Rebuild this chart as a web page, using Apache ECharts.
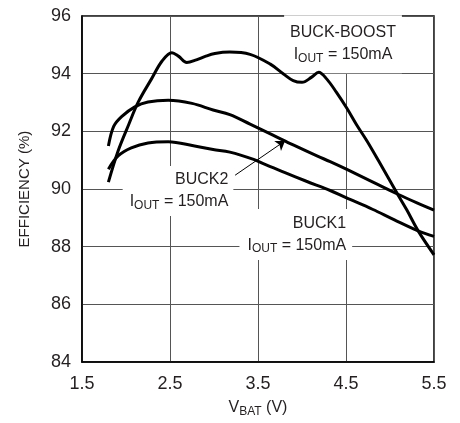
<!DOCTYPE html>
<html><head><meta charset="utf-8">
<script src="https://cdn.jsdelivr.net/npm/echarts@6/dist/echarts.min.js"></script>
<style>html,body{margin:0;padding:0;background:#fff}#c{width:460px;height:423px}</style>
</head><body><div id="c"></div>
<script>
const FONT = "'Liberation Sans Narrow','Arial Narrow','Liberation Sans',Arial,sans-serif";
const INK = '#231f20';
const xTicks = [1.5, 2.5, 3.5, 4.5, 5.5];
const yTicks = [84, 86, 88, 90, 92, 94, 96];

const buckBoostX = [1.8, 1.91, 2.03, 2.14, 2.29, 2.41, 2.52, 2.6, 2.69, 2.8, 2.9, 3.01, 3.18, 3.41, 3.64, 3.79, 3.9, 4.0, 4.11, 4.19, 4.28, 4.39, 4.51, 4.62, 4.74, 4.87, 5.09, 5.19, 5.32, 5.5];
const buckBoostY = [90.24, 91.32, 92.23, 93.02, 93.82, 94.44, 94.73, 94.6, 94.39, 94.48, 94.6, 94.7, 94.75, 94.67, 94.33, 93.99, 93.76, 93.7, 93.88, 94.05, 93.82, 93.36, 92.8, 92.23, 91.66, 90.98, 89.8, 89.28, 88.55, 87.72];

const buck2X = [1.8, 1.86, 1.95, 2.1, 2.25, 2.48, 2.75, 2.99, 3.18, 3.41, 3.67, 3.9, 4.17, 4.32, 4.51, 4.8, 5.09, 5.3, 5.5];
const buck2Y = [91.49, 92.17, 92.51, 92.85, 93.02, 93.08, 92.97, 92.74, 92.58, 92.25, 91.87, 91.53, 91.15, 90.95, 90.68, 90.25, 89.82, 89.53, 89.27];

const buck1X = [1.8, 1.91, 2.06, 2.25, 2.48, 2.78, 2.99, 3.18, 3.45, 3.56, 3.8, 4.05, 4.32, 4.5, 4.8, 5.05, 5.32, 5.5];
const buck1Y = [90.69, 91.15, 91.43, 91.6, 91.64, 91.49, 91.37, 91.28, 91.03, 90.88, 90.58, 90.27, 89.95, 89.7, 89.3, 88.93, 88.55, 88.36];

const zip = (xs, ys) => xs.map((x, i) => [x, ys[i]]);

const rich = {
  n: { fontFamily: FONT, fontSize: 16, color: INK, lineHeight: 22 },
  s: { fontFamily: FONT, fontSize: 12, color: INK, lineHeight: 22, padding: [8, 0, 0, 0] }
};
const ioutLine = '{n|I}{s|OUT}{n| = 150mA}';

function lineSeries(name, xs, ys, extra) {
  return Object.assign({
    name: name,
    type: 'line',
    data: zip(xs, ys),
    smooth: 0.35,
    showSymbol: false,
    symbol: 'none',
    clip: true,
    z: 5,
    lineStyle: { color: '#000', width: 3 },
    silent: true
  }, extra || {});
}

function labelPoint(coord, text, position, padding) {
  return {
    coord: coord,
    symbolSize: 0,
    label: {
      show: true,
      position: position,
      distance: 0,
      formatter: text,
      rich: rich,
      color: INK,
      align: position === 'left' ? 'right' : 'center',
      backgroundColor: '#fff',
      padding: padding
    }
  };
}

const chart = echarts.init(document.getElementById('c'), null, { renderer: 'canvas' });
chart.setOption({
  animation: false,
  backgroundColor: '#fff',
  grid: { left: 82, right: 26, top: 16, bottom: 55, show: true, borderColor: '#000', borderWidth: 1.5, backgroundColor: 'transparent' },
  xAxis: {
    type: 'value', min: 1.5, max: 5.5,
    axisLine: { show: true, lineStyle: { color: '#000', width: 1.5 } },
    axisTick: { show: false, customValues: xTicks },
    axisLabel: { customValues: xTicks, fontFamily: FONT, fontSize: 18, color: INK, margin: 13, formatter: v => v.toFixed(1) },
    splitLine: { show: true, lineStyle: { color: '#555', width: 1 } },
    name: '{n|V}{s|BAT}{n| (V)}',
    nameLocation: 'middle',
    nameGap: 22,
    nameTextStyle: { rich: rich }
  },
  yAxis: {
    type: 'value', min: 84, max: 96, interval: 2,
    axisLine: { show: true, lineStyle: { color: '#000', width: 1.5 } },
    axisTick: { show: false },
    axisLabel: { fontFamily: FONT, fontSize: 18, color: INK, margin: 11 },
    splitLine: { show: true, lineStyle: { color: '#555', width: 1 } },
    name: 'EFFICIENCY (%)',
    nameLocation: 'middle',
    nameGap: 50,
    nameTextStyle: { fontFamily: FONT, fontSize: 15, color: INK }
  },
  series: [
    lineSeries('BUCK-BOOST', buckBoostX, buckBoostY, {
      markPoint: {
        silent: true,
        symbol: 'circle',
        data: [labelPoint([4.466, 95.02], '{n|BUCK-BOOST}\n' + ioutLine, 'inside', [6, 6, 8, 6])]
      }
    }),
    lineSeries('BUCK2', buck2X, buck2Y, {
      markPoint: {
        silent: true,
        symbol: 'circle',
        data: [labelPoint([3.22, 89.93], '{n|BUCK2}\n' + ioutLine, 'left', [3, 5, 3, 7])]
      },
      markLine: {
        silent: true,
        symbol: ['none', 'arrow'],
        symbolSize: 9,
        label: { show: false },
        lineStyle: { color: '#000', width: 1, type: 'solid' },
        data: [[{ coord: [3.24, 90.48] }, { coord: [3.807, 91.67] }]]
      }
    }),
    lineSeries('BUCK1', buck1X, buck1Y, {
      markPoint: {
        silent: true,
        symbol: 'circle',
        data: [labelPoint([4.57, 88.42], '{n|BUCK1}\n' + ioutLine, 'left', [3, 6, 4, 8])]
      }
    })
  ]
});
</script>
</body></html>
